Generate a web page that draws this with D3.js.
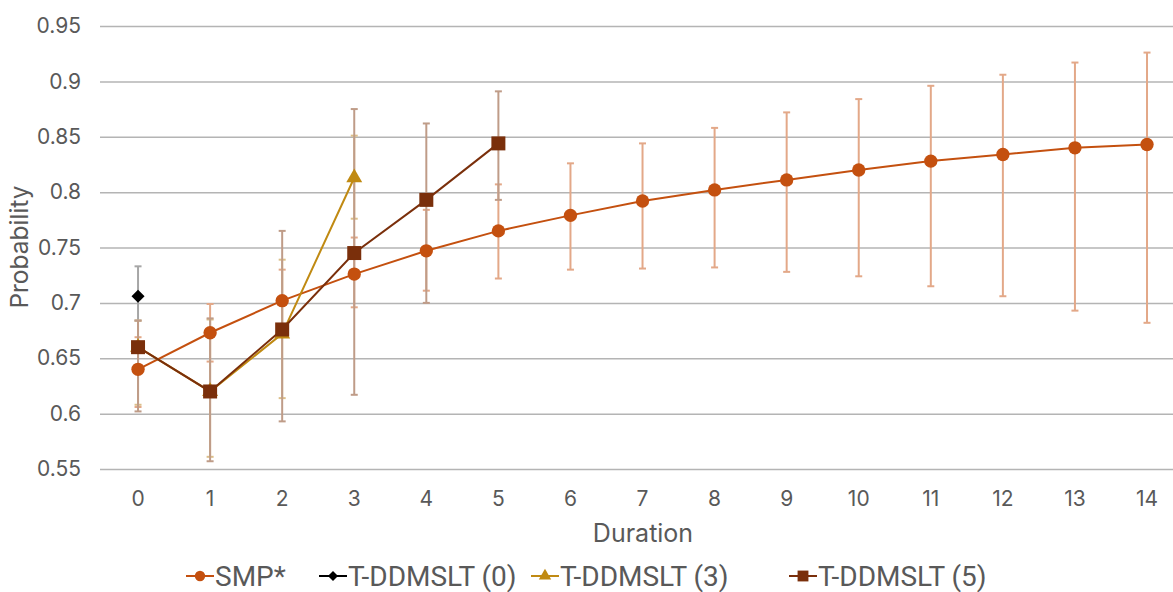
<!DOCTYPE html>
<html>
<head>
<meta charset="utf-8">
<script src="https://cdn.jsdelivr.net/npm/d3@7"></script>
<style>
  body { margin: 0; background: #fff; }
  svg { display: block; }
</style>
</head>
<body>
<script>
// categories + tick labels
const durations = [0, 1, 2, 3, 4, 5, 6, 7, 8, 9, 10, 11, 12, 13, 14]
const yTicks = [0.55, 0.6, 0.65, 0.7, 0.75, 0.8, 0.85, 0.9, 0.95]

// SMP*
const smpVals = [0.640, 0.673, 0.702, 0.726, 0.747, 0.765, 0.779, 0.792, 0.802, 0.811, 0.820, 0.828, 0.834, 0.840, 0.843]
const smpLow  = [0.606, 0.647, 0.674, 0.696, 0.711, 0.722, 0.730, 0.731, 0.732, 0.728, 0.724, 0.715, 0.706, 0.693, 0.682]
const smpHigh = [0.669, 0.699, 0.730, 0.759, 0.784, 0.807, 0.826, 0.844, 0.858, 0.872, 0.884, 0.896, 0.906, 0.917, 0.926]

// T-DDMSLT (0)
const t0Vals = [0.706]
const t0Low  = [0.684]
const t0High = [0.733]

// T-DDMSLT (3)
const t3Vals = [0.660, 0.620, 0.672, 0.813]
const t3Low  = [0.608, 0.561, 0.614, 0.776]
const t3High = [0.684, 0.685, 0.739, 0.851]

// T-DDMSLT (5)
const t5Vals = [0.660, 0.620, 0.676, 0.745, 0.793, 0.844]
const t5Low  = [0.602, 0.557, 0.593, 0.617, 0.700, 0.793]
const t5High = [0.684, 0.686, 0.765, 0.875, 0.862, 0.891]

const seriesNames = ['SMP*', 'T-DDMSLT (0)', 'T-DDMSLT (3)', 'T-DDMSLT (5)']

const w = 1173
const h = 592
const plotLeft = 102
const band = 72.07
const plotTop = 26
const plotBottom = 469

const series = [
  { name: seriesNames[0], vals: smpVals, lo: smpLow, hi: smpHigh, color: '#c4500f', bar: '#e3a888', shape: 'circle' },
  { name: seriesNames[1], vals: t0Vals, lo: t0Low, hi: t0High, color: '#000000', bar: '#a6a6a6', shape: 'diamond' },
  { name: seriesNames[2], vals: t3Vals, lo: t3Low, hi: t3High, color: '#c08a12', bar: '#dcbf8a', shape: 'triangle' },
  { name: seriesNames[3], vals: t5Vals, lo: t5Low, hi: t5High, color: '#7a2f0b', bar: '#bf9c88', shape: 'square' }
]

const x = d3.scaleBand()
  .domain(durations)
  .range([plotLeft, plotLeft + band * durations.length])

const y = d3.scaleLinear()
  .domain([0.55, 0.95])
  .range([plotBottom, plotTop])

const svg = d3.select('body')
  .append('svg')
  .attr('width', w)
  .attr('height', h)

// gridlines
svg.append('g')
  .attr('transform', `translate(${plotLeft - 2}, 0)`)
  .call(d3.axisLeft(y).tickValues(yTicks).tickSize(-(w - plotLeft + 10)).tickFormat(''))
  .call(g => g.select('.domain').remove())
  .call(g => g.selectAll('line').attr('stroke', '#b4b4b4').attr('stroke-width', 1.5))

// y axis labels
svg.append('g')
  .attr('transform', `translate(${plotLeft}, 0)`)
  .call(d3.axisLeft(y).tickValues(yTicks).tickSize(0).tickPadding(21).tickFormat(d => String(+d.toFixed(2))))
  .call(g => g.select('.domain').remove())
  .call(g => g.selectAll('text')
    .attr('fill', '#595959')
    .style('font-family', 'Inter, Roboto, sans-serif')
    .style('font-size', '21px'))

// x axis labels
svg.append('g')
  .attr('transform', `translate(0, ${plotBottom})`)
  .call(d3.axisBottom(x).tickSize(0).tickPadding(22))
  .call(g => g.select('.domain').remove())
  .call(g => g.selectAll('text')
    .attr('fill', '#595959')
    .style('font-family', 'Inter, Roboto, sans-serif')
    .style('font-size', '21px'))

svg.append('text')
  .attr('x', 643)
  .attr('y', 542)
  .attr('text-anchor', 'middle')
  .attr('fill', '#595959')
  .style('font-family', 'Inter, Roboto, sans-serif')
  .style('font-size', '25px')
  .text('Duration')

svg.append('text')
  .attr('transform', 'translate(28, 247) rotate(-90)')
  .attr('text-anchor', 'middle')
  .attr('fill', '#595959')
  .style('font-family', 'Inter, Roboto, sans-serif')
  .style('font-size', '24.5px')
  .text('Probability')

function markerPath (shape, scale) {
  if (shape === 'circle') return d3.symbol(d3.symbolCircle, 140 * scale)()
  if (shape === 'diamond') return d3.symbol(d3.symbolSquare, 85 * scale)()
  if (shape === 'triangle') return d3.symbol(d3.symbolTriangle, 110 * scale)()
  return d3.symbol(d3.symbolSquare, 196 * scale)()
}

const line = d3.line()
  .x((d, i) => x(durations[i]) + x.bandwidth() / 2)
  .y(d => y(d))

const cx = i => x(durations[i]) + x.bandwidth() / 2

series.forEach(s => {
  const g = svg.append('g')
  // error bars
  const eb = g.selectAll('g.eb')
    .data(s.vals.map((v, i) => ({ i, lo: s.lo[i], hi: s.hi[i] })))
    .enter()
    .append('g')
    .attr('stroke', s.bar)
    .attr('stroke-width', 2)
  eb.append('line')
    .attr('x1', d => cx(d.i)).attr('x2', d => cx(d.i))
    .attr('y1', d => y(d.lo)).attr('y2', d => y(d.hi))
  eb.append('line')
    .attr('x1', d => cx(d.i) - 3.5).attr('x2', d => cx(d.i) + 3.5)
    .attr('y1', d => y(d.lo)).attr('y2', d => y(d.lo))
  eb.append('line')
    .attr('x1', d => cx(d.i) - 3.5).attr('x2', d => cx(d.i) + 3.5)
    .attr('y1', d => y(d.hi)).attr('y2', d => y(d.hi))
})

series.forEach(s => {
  svg.append('path')
    .datum(s.vals)
    .attr('d', line)
    .attr('fill', 'none')
    .attr('stroke', s.color)
    .attr('stroke-width', 2)

  svg.append('g')
    .selectAll('path')
    .data(s.vals)
    .enter()
    .append('path')
    .attr('d', markerPath(s.shape, 1))
    .attr('transform', (d, i) => `translate(${cx(i)}, ${y(d)})` + (s.shape === 'diamond' ? ' rotate(45)' : ''))
    .attr('fill', s.color)
})

// legend
const legendX = [200, 333, 545, 803]
const legendY = 576
const leg = svg.append('g')
series.forEach((s, k) => {
  const lx = legendX[k]
  leg.append('line')
    .attr('x1', lx - 14).attr('x2', lx + 14)
    .attr('y1', legendY).attr('y2', legendY)
    .attr('stroke', s.color)
    .attr('stroke-width', 2)
  leg.append('path')
    .attr('d', markerPath(s.shape, 0.6))
    .attr('transform', `translate(${lx}, ${legendY})` + (s.shape === 'diamond' ? ' rotate(45)' : ''))
    .attr('fill', s.color)
  leg.append('text')
    .attr('x', lx + 15)
    .attr('y', legendY + 10)
    .attr('fill', '#595959')
    .style('font-family', 'Roboto, sans-serif')
    .style('font-size', '28px')
    .text(s.name)
})
</script>
</body>
</html>
